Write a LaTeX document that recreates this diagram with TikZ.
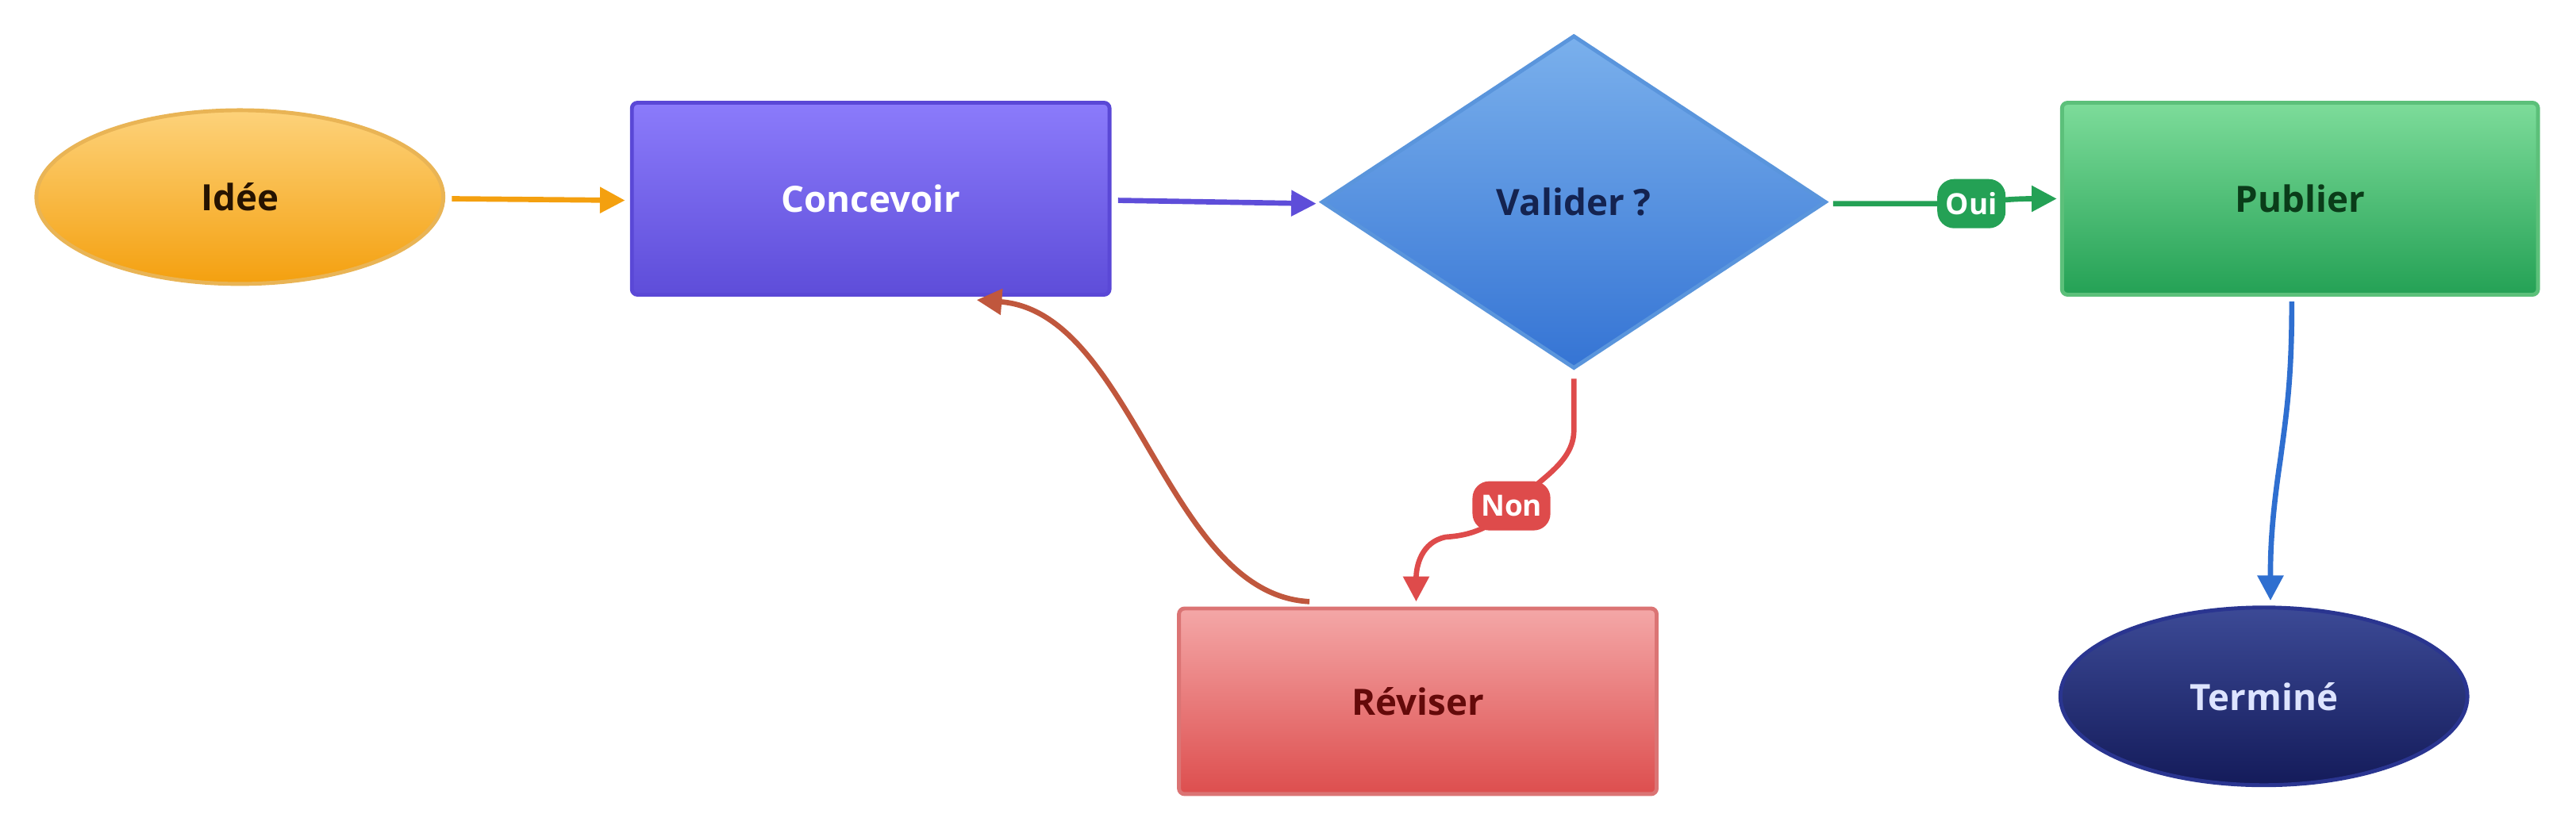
\documentclass[tikz,border=0pt]{standalone}
\usepackage{fontspec}
\setmainfont{Open Sans}
\usetikzlibrary{shapes.geometric,arrows.meta,calc}
\definecolor{orT}{HTML}{FDD27A}\definecolor{orB}{HTML}{F4A00F}\definecolor{orD}{HTML}{E9B455}
\definecolor{puT}{HTML}{8B7BFB}\definecolor{puB}{HTML}{5E4DD9}\definecolor{puD}{HTML}{5A48D6}
\definecolor{blT}{HTML}{7AB0EC}\definecolor{blB}{HTML}{3574D4}\definecolor{blD}{HTML}{5A95DC}
\definecolor{grT}{HTML}{7DDC9A}\definecolor{grB}{HTML}{24A155}\definecolor{grD}{HTML}{5CC07A}
\definecolor{reT}{HTML}{F4A7A7}\definecolor{reB}{HTML}{DD4E4E}\definecolor{reD}{HTML}{DB7474}
\definecolor{naT}{HTML}{3C4A96}\definecolor{naB}{HTML}{141B5A}\definecolor{naD}{HTML}{2A3590}
\definecolor{revA}{HTML}{C0573D}\definecolor{nonA}{HTML}{DE4B4B}\definecolor{termA}{HTML}{2F6FD0}
\begin{document}
\begin{tikzpicture}[x=0.0207cm,y=-0.0207cm,
  lbl/.style={font=\fontsize{13}{15}\selectfont\bfseries},
  box/.style={rectangle,rounded corners=2pt,line width=1.4pt,lbl},
  con/.style={line width=1.9pt,-{Triangle[length=9pt,width=9pt]}},
  pill/.style={rounded corners=6pt,text=white,font=\fontsize{10.5}{12}\selectfont\bfseries,inner sep=3pt,minimum height=0.62cm}]
\useasboundingbox (0,0) rectangle (1568,507);
\node[ellipse,draw=orD,top color=orT,bottom color=orB,line width=1.4pt,minimum width=5.13cm,minimum height=2.19cm,lbl,text=black!75!orange!60!black] (idee) at (146,120) {Idée};
\node[box,draw=puD,top color=puT,bottom color=puB,minimum width=6.02cm,minimum height=2.42cm,text=white] (conc) at (530,121) {Concevoir};
\node[diamond,draw=blD,top color=blT,bottom color=blB,line width=1.4pt,minimum width=6.36cm,minimum height=4.2cm,inner sep=0pt,lbl,text={rgb,255:red,20;green,35;blue,80}] (val) at (958,123) {Valider ?};
\node[box,draw=grD,top color=grT,bottom color=grB,minimum width=6.0cm,minimum height=2.42cm,text={rgb,255:red,10;green,60;blue,25}] (pub) at (1400,121) {Publier};
\node[box,draw=reD,top color=reT,bottom color=reB,minimum width=6.02cm,minimum height=2.34cm,text={rgb,255:red,100;green,10;blue,10}] (rev) at (863,427) {Réviser};
\node[ellipse,draw=naD,top color=naT,bottom color=naB,line width=1.4pt,minimum width=5.13cm,minimum height=2.24cm,lbl,text={rgb,255:red,221;green,228;blue,255}] (term) at (1378,424) {Terminé};
\draw[con,draw=orB] ($(idee.east)+(4,1)$) -- ($(conc.west)+(-3,1)$);
\draw[con,draw=puB] ($(conc.east)+(4,1)$) -- ($(val.west)+(-2,1)$);
\draw[con,draw=grB] ($(val.east)+(3,1)$) -- (1165,124) -- (1200,124) .. controls (1215,122) and (1225,121) .. ($(pub.west)+(-2,0)$)
  node[pill,fill=grB,pos=0.0] at (1182,123) {Oui};
\draw[con,draw=nonA] ($(val.south)+(0,5)$) -- (958,262) .. controls (958,280) and (940,290) .. (930,300)
  .. controls (910,322) and (895,326) .. (880,327) .. controls (865,330) and (862,345) .. ($(rev.north)+(-1,-3)$);
\node[pill,fill=nonA] (non) at (920,308) {Non};
\draw[con,draw=revA] ($(rev.north west)!0.275!(rev.north east)+(0,-3)$) .. controls (710,362) and (690,190) .. ($(conc.south west)!0.72!(conc.south east)+(0,2)$);
\draw[con,draw=termA] ($(pub.south)+(-5,3)$) .. controls (1395,230) and (1392,250) .. (1388,280) .. controls (1382,320) and (1382,340) .. ($(term.north)+(4,-3)$);
\end{tikzpicture}
\end{document}
